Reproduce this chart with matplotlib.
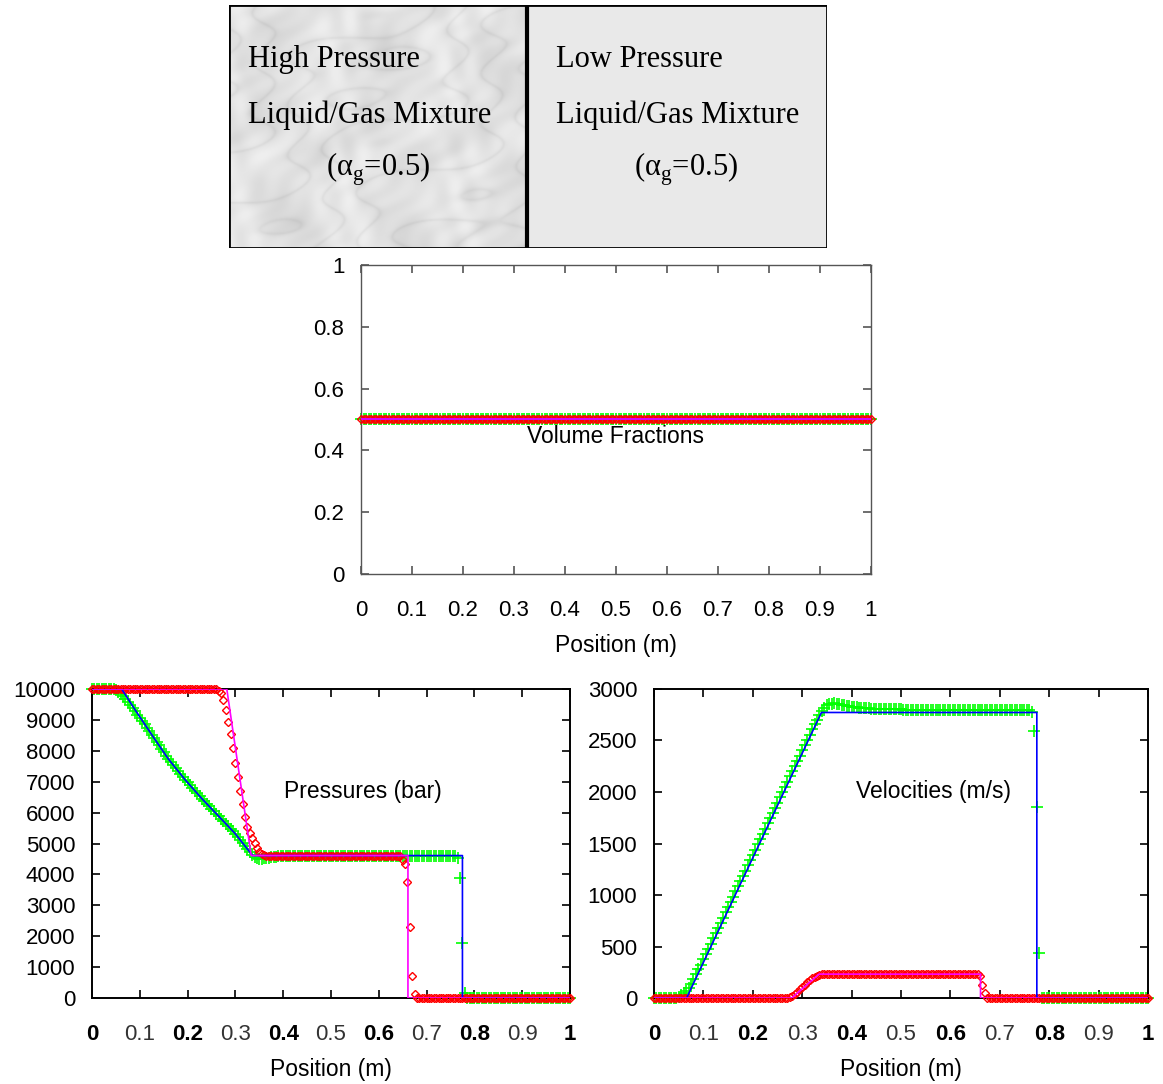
import numpy as np
import matplotlib
matplotlib.use("Agg")
import matplotlib.pyplot as plt
from matplotlib.patches import Rectangle

plt.rcParams['font.family'] = ['Liberation Sans', 'DejaVu Sans']

# grid of cell positions (m)
x_grid = np.linspace(0, 1, 201)

# volume fractions (gas and liquid, numerical + exact)
alpha_gas_num = [0.5] * 201
alpha_liq_num = [0.5] * 201
alpha_exact_x = [0, 1]
alpha_exact_y = [0.5, 0.5]

# pressures (bar)
p_liq_num = ([10000] * 53
             + [9950, 9860, 9640, 9320, 8940, 8540, 8080, 7620, 7140, 6710,
                6280, 5870, 5550, 5350, 5170, 5010, 4850, 4720, 4660, 4630]
             + [4600] * 57
             + [4480, 4330, 3740, 2290, 710, 130]
             + [0] * 65)
p_gas_num = ([10000] * 9
             + [9985, 9955, 9910, 9850, 9775, 9690, 9595, 9490, 9385, 9275,
                9170, 9065, 8960, 8855, 8745, 8635, 8520, 8405, 8295, 8180,
                8070, 7955, 7845, 7730, 7635, 7540, 7445, 7345, 7250, 7155,
                7060, 6975, 6885, 6800, 6710, 6625, 6535, 6450, 6370, 6290,
                6205, 6125, 6045, 5965, 5885, 5800, 5720, 5640, 5560, 5475,
                5395, 5315, 5215, 5120, 5025, 4925, 4830, 4735, 4640]
             + [4560, 4520, 4510, 4510, 4520, 4530, 4540, 4550, 4560, 4570, 4580]
             + [4590] * 20 + [4600] * 30 + [4610] * 24
             + [4520, 3890, 1790, 150]
             + [0] * 44)
p_gas_exact_x = [0, 0.062, 0.09, 0.125, 0.16, 0.195, 0.23, 0.264, 0.299, 0.336, 0.775, 0.775, 1]
p_gas_exact_y = [10000, 10000, 9330, 8520, 7730, 7060, 6450, 5900, 5330, 4610, 4610, 0, 0]
p_liq_exact_x = [0, 0.282, 0.333, 0.661, 0.661, 1]
p_liq_exact_y = [10000, 10000, 4610, 4610, 0, 0]

# velocities (m/s)
u_gas_num = ([0] * 9
             + [3, 10, 25, 45, 70, 100, 135, 180, 230, 280,
                325, 375, 426, 477, 528, 578, 629, 680, 731, 781,
                832, 883, 934, 984, 1035, 1086, 1136, 1187, 1238, 1289,
                1339, 1390, 1441, 1492, 1542, 1593, 1644, 1695, 1745, 1796,
                1847, 1897, 1948, 1999, 2050, 2100, 2151, 2202, 2253, 2303,
                2354, 2405, 2456, 2506, 2557, 2608, 2658]
             + [2700, 2745, 2790, 2820, 2840, 2852, 2858, 2860, 2857, 2853,
                2848, 2843, 2838, 2834, 2830, 2826, 2823, 2820, 2817, 2815,
                2813, 2811, 2809, 2807, 2806]
             + [2803] * 10 + [2800] * 20 + [2796] * 16 + [2793] * 16
             + [2780, 2590, 1850, 440]
             + [0] * 44)
u_liq_num = ([0] * 54
             + [3, 10, 22, 40, 62, 85, 108, 130, 152, 173, 192, 207, 218, 225, 229, 231]
             + [234] * 62
             + [213, 126, 45, 5]
             + [0] * 65)
u_gas_exact_x = [0, 0.066, 0.339, 0.775, 0.775, 1]
u_gas_exact_y = [0, 0, 2772, 2772, 0, 0]
u_liq_exact_x = [0, 0.279, 0.334, 0.661, 0.661, 1]
u_liq_exact_y = [0, 0, 232, 232, 0, 0]

fig = plt.figure(figsize=(11.63, 10.84), dpi=100)

# ---- sketch of the initial state (top box) ----
ax0 = fig.add_axes([0.1969, 0.7712, 0.5142, 0.2242])
ax0.set_xlim(0, 1)
ax0.set_ylim(0, 1)
ax0.axis('off')
# marble-like background for the high pressure side (decoration only)
ny, nx = 240, 300
yy, xx = np.mgrid[0:1:ny * 1j, 0:1.25:nx * 1j]
mottle = (np.sin(13 * xx + 9 * yy + 1.5 * np.sin(11 * yy))
          + 0.7 * np.sin(29 * xx - 17 * yy + 2 * np.sin(13 * xx))
          + 0.5 * np.sin(47 * xx + 41 * yy + 1.5 * np.sin(23 * yy - 9 * xx)))
veins = np.abs(np.sin(9 * (xx + 0.8 * yy) + 2.0 * np.sin(7 * xx - 4 * yy) + 1.0 * np.sin(31 * yy + 5 * xx)))
tex = 0.89 + 0.022 * mottle - 0.06 * np.exp(-veins * 5)
ax0.imshow(tex, cmap='gray', vmin=0, vmax=1, extent=(0, 0.498, 0, 1), aspect='auto',
           interpolation='bicubic', zorder=0)
ax0.add_patch(Rectangle((0.498, 0), 0.502, 1, facecolor='#e9e9e9', edgecolor='none', zorder=0))
ax0.add_patch(Rectangle((0, 0), 1, 1, facecolor='none', edgecolor='black', lw=2, zorder=3))
ax0.plot([0.498, 0.498], [0, 1], color='black', lw=3, zorder=3)

serif = ['Liberation Serif', 'DejaVu Serif']
ax0.text(0.032, 0.775, 'High Pressure', family=serif, fontsize=22, va='center')
ax0.text(0.032, 0.545, 'Liquid/Gas Mixture', family=serif, fontsize=22, va='center')
ax0.text(0.249, 0.322, r'(α$_\mathregular{g}$=0.5)', family=serif, fontsize=22, va='center', ha='center')
ax0.text(0.547, 0.775, 'Low Pressure', family=serif, fontsize=22, va='center')
ax0.text(0.547, 0.545, 'Liquid/Gas Mixture', family=serif, fontsize=22, va='center')
ax0.text(0.764, 0.322, r'(α$_\mathregular{g}$=0.5)', family=serif, fontsize=22, va='center', ha='center')


def draw_series(ax, gas, liq, gx, gy, lx, ly):
    ax.plot(x_grid, gas, ls='none', marker='+', ms=8, mew=1.2, color='#00ff00', clip_on=False, zorder=2)
    ax.plot(x_grid, liq, ls='none', marker='D', ms=4.5, mew=1.0, mfc='none', mec='#ff0000', clip_on=False, zorder=3)
    ax.plot(gx, gy, color='#0000ff', lw=1.2, zorder=4)
    ax.plot(lx, ly, color='#ff00ff', lw=1.2, zorder=4)


def style_axes(ax, spine_color, spine_lw):
    for s in ax.spines.values():
        s.set_color(spine_color)
        s.set_linewidth(spine_lw)
    ax.tick_params(direction='in', length=6, width=1.2, top=True, right=True,
                   labelsize=16, color=spine_color)
    ax.tick_params(axis='x', pad=19)
    ax.tick_params(axis='y', pad=12)
    ax.set_xlim(0, 1)


# ---- volume fractions ----
ax1 = fig.add_axes([0.3104, 0.4705, 0.4385, 0.2851])
draw_series(ax1, alpha_gas_num, alpha_liq_num, alpha_exact_x, alpha_exact_y, alpha_exact_x, alpha_exact_y)
style_axes(ax1, '#555555', 1.0)
ax1.set_ylim(0, 1)
ax1.set_xticks(np.arange(0, 1.01, 0.1))
ax1.set_xticklabels(['0', '0.1', '0.2', '0.3', '0.4', '0.5', '0.6', '0.7', '0.8', '0.9', '1'])
ax1.set_yticks(np.arange(0, 1.01, 0.2))
ax1.set_yticklabels(['0', '0.2', '0.4', '0.6', '0.8', '1'])
ax1.set_xlabel('Position (m)', fontsize=16.5, labelpad=9)
ax1.text(0.5, 0.445, 'Volume Fractions', fontsize=16.5, ha='center', va='center')

xlabels = ['0', '0.1', '0.2', '0.3', '0.4', '0.5', '0.6', '0.7', '0.8', '0.9', '1']

# ---- pressures ----
ax2 = fig.add_axes([0.0791, 0.0793, 0.4110, 0.2851])
draw_series(ax2, p_gas_num, p_liq_num, p_gas_exact_x, p_gas_exact_y, p_liq_exact_x, p_liq_exact_y)
style_axes(ax2, 'black', 1.4)
ax2.set_ylim(0, 10000)
ax2.set_yticks(np.arange(0, 10001, 1000))
ax2.set_yticklabels([str(v) for v in range(0, 10001, 1000)])
ax2.set_xlabel('Position (m)', fontsize=16.5, labelpad=9)
ax2.text(0.567, 0.667, 'Pressures (bar)', fontsize=16.5, ha='center', va='center', transform=ax2.transAxes)

# ---- velocities ----
ax3 = fig.add_axes([0.5623, 0.0793, 0.4248, 0.2851])
draw_series(ax3, u_gas_num, u_liq_num, u_gas_exact_x, u_gas_exact_y, u_liq_exact_x, u_liq_exact_y)
style_axes(ax3, 'black', 1.4)
ax3.set_ylim(0, 3000)
ax3.set_yticks(np.arange(0, 3001, 500))
ax3.set_yticklabels([str(v) for v in range(0, 3001, 500)])
ax3.set_xlabel('Position (m)', fontsize=16.5, labelpad=9)
ax3.text(0.565, 0.667, 'Velocities (m/s)', fontsize=16.5, ha='center', va='center', transform=ax3.transAxes)

for ax in (ax2, ax3):
    ax.set_xticks(np.arange(0, 1.01, 0.1))
    ax.set_xticklabels(xlabels)
    for i, lab in enumerate(ax.get_xticklabels()):
        if i % 2 == 0:
            lab.set_fontweight('bold')
        else:
            lab.set_color('#333333')

fig.savefig('out.png', dpi=100)
